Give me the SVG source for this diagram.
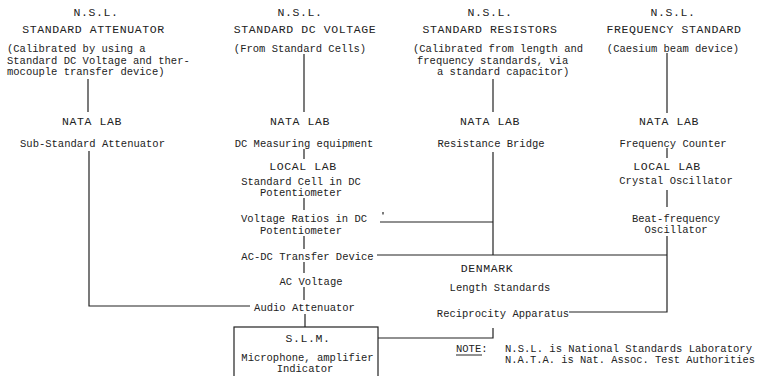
<svg xmlns="http://www.w3.org/2000/svg" width="760" height="376" viewBox="0 0 760 376">
<style>
text{font-family:"Liberation Mono","DejaVu Sans Mono",monospace;fill:#222;}
.s{font-size:10.5px;}
.h{font-size:11.5px;letter-spacing:0.6px;}
.m{text-anchor:middle;}
.c line,.c polyline,.c rect{stroke:#222;stroke-width:1.2;fill:none;}
</style>
<rect width="760" height="376" fill="#fff"/>
<g id="nsl-attenuator">
<text class="h m" x="96" y="16">N.S.L.</text>
<text class="h m" x="93.5" y="33">STANDARD ATTENUATOR</text>
<text class="s" x="7" y="52">(Calibrated by using a</text>
<text class="s" x="7" y="64">Standard DC Voltage and ther-</text>
<text class="s" x="7" y="75">mocouple transfer device)</text>
</g>
<g id="nsl-dc">
<text class="h m" x="300" y="16">N.S.L.</text>
<text class="h m" x="305" y="33">STANDARD DC VOLTAGE</text>
<text class="s m" x="300" y="52">(From Standard Cells)</text>
</g>
<g id="nsl-resistors">
<text class="h m" x="490" y="16">N.S.L.</text>
<text class="h m" x="490" y="33">STANDARD RESISTORS</text>
<text class="s" x="413" y="52">(Calibrated from length and</text>
<text class="s" x="417" y="64">frequency standards, via</text>
<text class="s" x="437" y="75">a standard capacitor)</text>
</g>
<g id="nsl-frequency">
<text class="h m" x="673" y="16">N.S.L.</text>
<text class="h m" x="674" y="33">FREQUENCY STANDARD</text>
<text class="s m" x="673" y="52">(Caesium beam device)</text>
</g>
<g id="nata-attenuator">
<text class="h m" x="92" y="125">NATA LAB</text>
<text class="s m" x="92.5" y="146.5">Sub-Standard Attenuator</text>
</g>
<g id="nata-dc">
<text class="h m" x="300" y="125">NATA LAB</text>
<text class="s m" x="304" y="146.5">DC Measuring equipment</text>
</g>
<g id="nata-resistance">
<text class="h m" x="490" y="125">NATA LAB</text>
<text class="s m" x="491" y="146.5">Resistance Bridge</text>
</g>
<g id="nata-frequency">
<text class="h m" x="669" y="125">NATA LAB</text>
<text class="s m" x="673" y="146.5">Frequency Counter</text>
</g>
<g id="local-dc">
<text class="h m" x="303" y="170">LOCAL LAB</text>
<text class="s m" x="301" y="184.5">Standard Cell in DC</text>
<text class="s m" x="301" y="195.5">Potentiometer</text>
</g>
<g id="local-crystal">
<text class="h m" x="667" y="170">LOCAL LAB</text>
<text class="s m" x="676" y="183.5">Crystal Oscillator</text>
</g>
<g id="voltage-ratios">
<text class="s m" x="304" y="221.5">Voltage Ratios in DC</text>
<text class="s m" x="301" y="233.5">Potentiometer</text>
</g>
<g id="beat-frequency">
<text class="s m" x="676" y="221.5">Beat-frequency</text>
<text class="s m" x="676" y="232.5">Oscillator</text>
</g>
<g id="acdc-transfer">
<text class="s m" x="307.5" y="259.5">AC-DC Transfer Device</text>
</g>
<g id="ac-voltage">
<text class="s m" x="311" y="284.5">AC Voltage</text>
</g>
<g id="audio-attenuator">
<text class="s m" x="304.5" y="310.5">Audio Attenuator</text>
</g>
<g id="denmark">
<text class="h m" x="487" y="272">DENMARK</text>
<text class="s m" x="500" y="290.5">Length Standards</text>
<text class="s m" x="503" y="316.5">Reciprocity Apparatus</text>
</g>
<g id="slm">
<rect x="234" y="327" width="144" height="55" fill="none" stroke="#222" stroke-width="1.2"/>
<text class="h m" x="308" y="342">S.L.M.</text>
<text class="s m" x="307.5" y="360.5">Microphone, amplifier</text>
<text class="s m" x="305" y="371.5">Indicator</text>
</g>
<g id="note">
<text class="s" x="456" y="352">NOTE:</text>
<line x1="456" y1="355" x2="482" y2="355" stroke="#222" stroke-width="1"/>
<text class="s" x="505" y="352" textLength="247" lengthAdjust="spacingAndGlyphs" style="font-size:10px">N.S.L. is National Standards Laboratory</text>
<text class="s" x="505" y="363" textLength="250" lengthAdjust="spacingAndGlyphs" style="font-size:10px">N.A.T.A. is Nat. Assoc. Test Authorities</text>
</g>
<g id="connectors" class="c">
<line x1="88" y1="79" x2="88" y2="112"/>
<line x1="304" y1="54" x2="304" y2="112"/>
<line x1="493" y1="79" x2="493" y2="112"/>
<line x1="667" y1="53" x2="667" y2="113"/>
<polyline points="89,151 89,306 250,306"/>
<line x1="304" y1="149" x2="304" y2="159"/>
<line x1="304" y1="198" x2="304" y2="210"/>
<line x1="304" y1="236" x2="304" y2="249"/>
<line x1="304" y1="262" x2="304" y2="273"/>
<line x1="304" y1="287" x2="304" y2="300"/>
<line x1="305" y1="314" x2="305" y2="327"/>
<polyline points="378,338 493,338 493,328"/>
<line x1="493" y1="152" x2="493" y2="255"/>
<line x1="380" y1="222" x2="493" y2="222"/>
<line x1="383" y1="212" x2="383" y2="214.5"/>
<line x1="377" y1="255" x2="667" y2="255"/>
<line x1="667" y1="148" x2="667" y2="158"/>
<line x1="667" y1="190" x2="667" y2="207"/>
<polyline points="667,236 667,312 569,312"/>
</g>
</svg>
